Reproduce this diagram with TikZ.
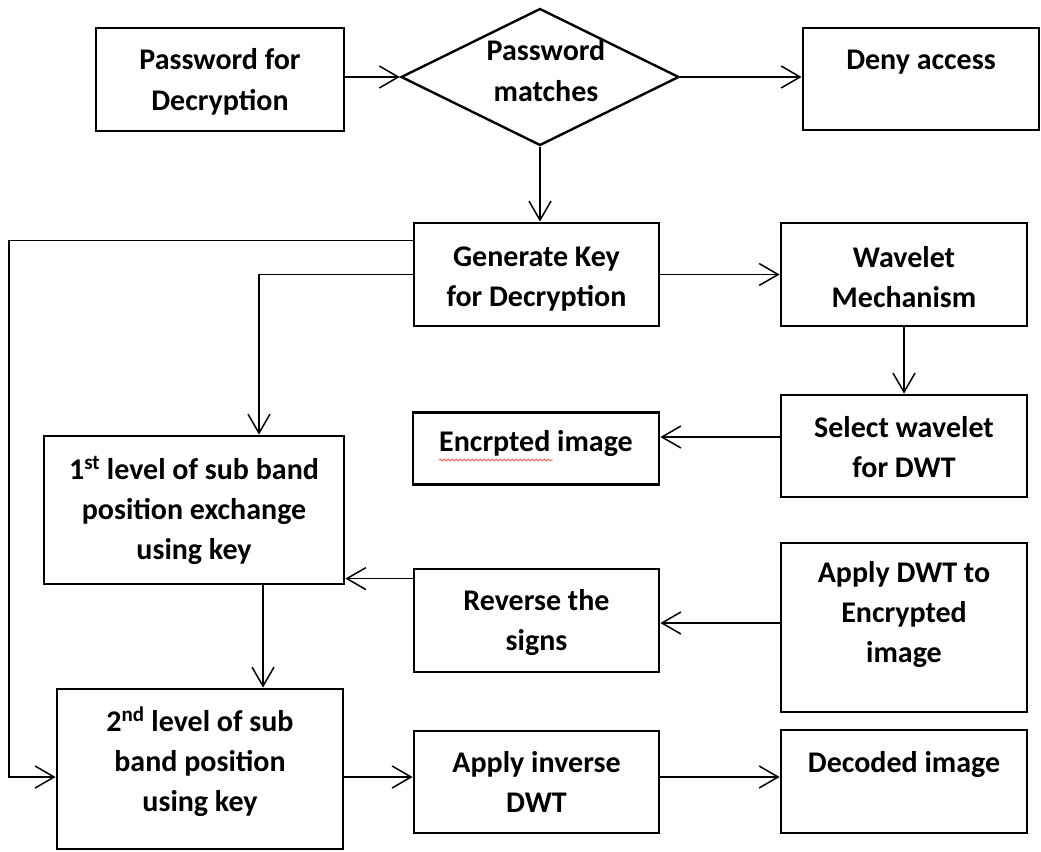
\documentclass[tikz,border=0pt]{standalone}
\usepackage{fontspec}
\setmainfont{Carlito}
\usetikzlibrary{arrows.meta,shapes.geometric,calc,decorations.pathmorphing}
% struts that fix the first baseline and the extra depth below the last line
\newcommand\StrutTop{\rule{0pt}{28pt}}
\newcommand\StrutBot[1]{\rule[-#1]{0pt}{#1}}
\begin{document}
\begin{tikzpicture}[x=1pt,y=-1pt,
  stepbox/.style={draw, line width=2.8pt, rectangle, inner sep=0pt, align=center,
    font=\bfseries\fontsize{30}{40}\selectfont},
  plaintext/.style={inner sep=0pt, align=center, font=\bfseries\fontsize{30}{40}\selectfont},
  link/.style={line width=1.5pt, -{Straight Barb[length=19pt,width=22pt]}},
  wire/.style={line width=1.5pt}]
\useasboundingbox (0,0) rectangle (1041,851);

% helper coordinates for the routed lines
\coordinate (lowrow) at (0,777);
\coordinate (leftrail) at (9,0);
\coordinate (feed) at (259,0);
\coordinate (drop) at (263,0);

% top row
\node[stepbox, minimum width=248pt, minimum height=103pt] (pwd) at (220,79.5)
  {\StrutTop Password for\\Decryption\StrutBot{7pt}};
\node[diamond, draw, line width=2.4pt, minimum width=278pt, minimum height=137pt, inner sep=0pt] (dec) at (540,77) {};
\node[plaintext] (dectext) at (546,70) {\StrutTop Password\\matches\StrutBot{6pt}};
\node[stepbox, minimum width=236pt, minimum height=102pt] (deny) at (921,79)
  {\StrutTop Deny access\\\StrutBot{6pt}};

% key generation and wavelet selection
\node[stepbox, minimum width=245pt, minimum height=103pt] (gen) at (536.5,274.5)
  {\StrutTop Generate Key\\for Decryption\StrutBot{3pt}};
\node[stepbox, minimum width=246pt, minimum height=103pt] (wav) at (904,274.5)
  {\StrutTop Wavelet\\Mechanism\StrutBot{3pt}};
\node[stepbox, minimum width=246pt, minimum height=72pt] (enc) at (536,448.5)
  {\StrutTop Encrpted image\StrutBot{22pt}};
\node[stepbox, minimum width=246pt, minimum height=102pt] (sel) at (904,446)
  {\StrutTop Select wavelet\\for DWT\StrutBot{6pt}};

% sub band exchange and transforms
\node[stepbox, minimum width=300pt, minimum height=148pt] (first) at (194,510)
  {\StrutTop 1\textsuperscript{st} level of sub band\\position exchange\\using key\StrutBot{10pt}};
\node[stepbox, minimum width=245pt, minimum height=103pt] (rev) at (536.5,620.5)
  {\StrutTop Reverse the\\signs\StrutBot{9pt}};
\node[stepbox, minimum width=246pt, minimum height=169pt] (app) at (904,627.5)
  {\StrutTop Apply DWT to\\Encrypted\\image\StrutBot{39pt}};
\node[stepbox, minimum width=286pt, minimum height=160pt] (second) at (200,769)
  {\StrutTop 2\textsuperscript{nd} level of sub\\band position\\using key\StrutBot{24pt}};
\node[stepbox, minimum width=245pt, minimum height=102pt] (inv) at (536.5,782)
  {\StrutTop Apply inverse\\DWT\StrutBot{8pt}};
\node[stepbox, minimum width=246pt, minimum height=103pt] (decd) at (904,781.5)
  {\StrutTop Decoded image\\\StrutBot{7pt}};

% spell-check underline under the misspelt word
\draw[red!65, line width=0.8pt, decorate, decoration={snake, amplitude=1.1pt, segment length=4pt}]
  ($(enc.center)+(-97,11.5)$) -- ($(enc.center)+(17,11.5)$);

% connectors
\draw[link] (pwd.east |- dec.west) -- (dec.west);
\draw[link] (dec.east) -- (dec.east -| deny.west);
\draw[link] (dec.south) -- (dec.south |- gen.north);
\draw[link] (gen.east) -- (gen.east -| wav.west);
\draw[link] (wav.south) -- (sel.north);
\draw[link] ([yshift=9pt]sel.west) -- ([yshift=9pt]sel.west -| enc.east);
\draw[link] ([yshift=4.5pt]app.west) -- ([yshift=4.5pt]app.west -| rev.east);
\draw[link] ([yshift=-11pt]rev.north west) -- ([yshift=-11pt]rev.north west -| first.east);
\draw[link] (gen.west) -| (feed |- first.north);
\draw[link] ([yshift=-19pt]gen.north west) -| (leftrail |- lowrow) -- (second.west |- lowrow);
\draw[link] (first.south -| drop) -- (second.north -| drop);
\draw[link] (second.east |- lowrow) -- (inv.west |- lowrow);
\draw[link] (inv.east |- lowrow) -- (decd.west |- lowrow);
\end{tikzpicture}
\end{document}
